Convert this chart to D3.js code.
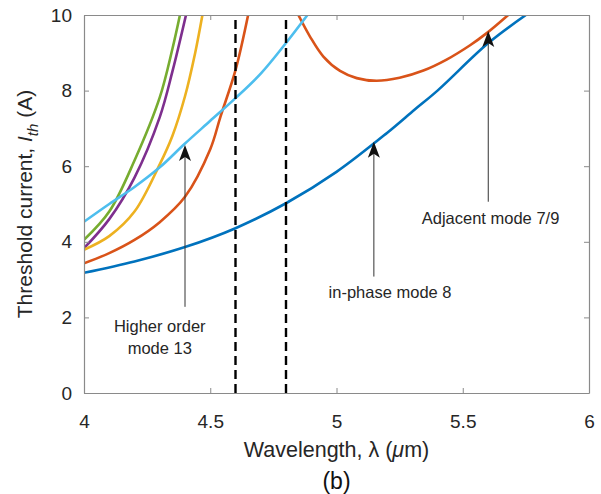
<!DOCTYPE html>
<html>
<head>
<meta charset="utf-8">
<script src="https://cdn.jsdelivr.net/npm/d3@7"></script>
<style>
  body { margin: 0; background: #fff; }
  svg { display: block; font-family: "Liberation Sans", Arial, Helvetica, sans-serif; }
</style>
</head>
<body>
<div id="chart"></div>
<script>
// Wavelength (um) / threshold current (A), one pair of arrays per mode
var inPhaseX = [4.0, 4.2, 4.4, 4.6, 4.8, 5.0, 5.2, 5.31, 5.4, 5.6, 5.75],
	inPhaseY = [3.18, 3.48, 3.86, 4.36, 5.02, 5.85, 6.88, 7.5, 8.0, 9.25, 10];

var adjAX = [4.0, 4.1, 4.2, 4.3, 4.4, 4.5, 4.54, 4.6, 4.65],
	adjAY = [3.43, 3.7, 4.05, 4.52, 5.19, 6.45, 7.3, 8.54, 10];

var adjBX = [4.849, 4.895, 4.948, 5.014, 5.08, 5.159, 5.25, 5.344, 5.436, 5.529, 5.595, 5.68],
	adjBY = [10, 9.43, 8.9, 8.52, 8.33, 8.26, 8.34, 8.53, 8.82, 9.2, 9.52, 10];

var mode13X = [4.0, 4.1, 4.2, 4.3, 4.4, 4.5, 4.6, 4.7, 4.8, 4.885],
	mode13Y = [4.53, 5.0, 5.45, 5.97, 6.6, 7.2, 7.8, 8.45, 9.26, 10];

var yellowX = [4.0, 4.1, 4.2, 4.3, 4.35, 4.4, 4.44, 4.469],
	yellowY = [3.79, 4.15, 4.8, 6.05, 6.8, 7.85, 8.99, 10];

var purpleX = [4.0, 4.1, 4.2, 4.3, 4.35, 4.404],
	purpleY = [3.83, 4.6, 5.7, 7.3, 8.5, 10];

var greenX = [4.0, 4.1, 4.2, 4.3, 4.35, 4.38],
	greenY = [4.05, 4.8, 6.15, 7.82, 9.1, 10];

var xTicks = [4, 4.5, 5, 5.5, 6],
	yTicks = [0, 2, 4, 6, 8, 10];

var cutoffs = [4.6, 4.8]; // dashed lines

// arrows: x, y of tail, y of tip (data units)
var arrowX = [4.4, 5.148, 5.601],
	arrowFrom = [2.28, 3.08, 5.06],
	arrowTo = [6.56, 6.65, 9.58];

var noteText = [['Higher order', 'mode 13'], ['in-phase mode 8'], ['Adjacent mode 7/9']],
	noteX = [4.30, 5.212, 5.61],
	noteY = [1.61, 2.51, 4.48];

var W = 601, H = 494,
	margin = {top: 15, right: 12, bottom: 101, left: 84},
	width = W - margin.left - margin.right,
	height = H - margin.top - margin.bottom;

var axisGray = '#8a8a8a',
	textColor = '#262626';

var x = d3.scaleLinear().domain([4, 6]).range([0, width]);
var y = d3.scaleLinear().domain([0, 10]).range([height, 0]);

var svg = d3.select('#chart').append('svg')
	.attr('width', W)
	.attr('height', H);

var g = svg.append('g')
	.attr('transform', 'translate(' + margin.left + ',' + margin.top + ')');

g.append('clipPath').attr('id', 'plot-clip')
	.append('rect').attr('width', width).attr('height', height);

var series = [
	{xs: greenX, ys: greenY, color: '#77AC30'},
	{xs: purpleX, ys: purpleY, color: '#7E2F8E'},
	{xs: yellowX, ys: yellowY, color: '#EDB120'},
	{xs: adjAX, ys: adjAY, color: '#D95319'},
	{xs: adjBX, ys: adjBY, color: '#D95319'},
	{xs: mode13X, ys: mode13Y, color: '#4DBEEE'},
	{xs: inPhaseX, ys: inPhaseY, color: '#0072BD'}
];

var line = d3.line()
	.x(function (d) { return x(d[0]); })
	.y(function (d) { return y(d[1]); })
	.curve(d3.curveCatmullRom.alpha(0.5));

var plot = g.append('g').attr('clip-path', 'url(#plot-clip)');

plot.selectAll('path.mode')
	.data(series)
	.enter().append('path')
	.attr('class', 'mode')
	.attr('fill', 'none')
	.attr('stroke', function (d) { return d.color; })
	.attr('stroke-width', 2.6)
	.attr('d', function (d) {
		return line(d.xs.map(function (v, i) { return [v, d.ys[i]]; }));
	});

// dashed cut-off lines
plot.selectAll('line.cut')
	.data(cutoffs)
	.enter().append('line')
	.attr('class', 'cut')
	.attr('x1', function (d) { return x(d); })
	.attr('x2', function (d) { return x(d); })
	.attr('y1', y(0))
	.attr('y2', y(10))
	.attr('stroke', '#000')
	.attr('stroke-width', 2.4)
	.attr('stroke-dasharray', '9,5');

// axes (ticks point inward, box on all four sides)
function styleAxis(sel) {
	sel.select('.domain').attr('stroke', axisGray).attr('stroke-width', 1.2);
	sel.selectAll('.tick line').attr('stroke', axisGray);
	sel.selectAll('.tick text')
		.attr('fill', textColor)
		.style('font-size', '19px');
}

g.append('g')
	.attr('transform', 'translate(0,' + height + ')')
	.call(d3.axisBottom(x).tickValues(xTicks).tickSizeInner(-5).tickSizeOuter(0).tickPadding(22)
		.tickFormat(d3.format('')))
	.call(styleAxis);

g.append('g')
	.call(d3.axisTop(x).tickValues(xTicks).tickSizeInner(-5).tickSizeOuter(0).tickFormat(''))
	.call(styleAxis);

g.append('g')
	.call(d3.axisLeft(y).tickValues(yTicks).tickSizeInner(-5).tickSizeOuter(0).tickPadding(12))
	.call(styleAxis);

g.append('g')
	.attr('transform', 'translate(' + width + ',0)')
	.call(d3.axisRight(y).tickValues(yTicks).tickSizeInner(-5).tickSizeOuter(0).tickFormat(''))
	.call(styleAxis);

// annotation arrows
var arrows = g.selectAll('g.arrow')
	.data(arrowX)
	.enter().append('g')
	.attr('class', 'arrow');

arrows.append('line')
	.attr('x1', function (d) { return x(d); })
	.attr('x2', function (d) { return x(d); })
	.attr('y1', function (d, i) { return y(arrowFrom[i]); })
	.attr('y2', function (d, i) { return y(arrowTo[i]) + 10; })
	.attr('stroke', '#333')
	.attr('stroke-width', 1);

arrows.append('path')
	.attr('transform', function (d, i) {
		return 'translate(' + x(d) + ',' + y(arrowTo[i]) + ')';
	})
	.attr('d', 'M0,0L6,16L0,12L-6,16Z')
	.attr('fill', '#111');

// annotation texts
var notes = g.selectAll('text.note')
	.data(noteText)
	.enter().append('text')
	.attr('class', 'note')
	.attr('text-anchor', 'middle')
	.attr('fill', textColor)
	.style('font-size', '16.5px')
	.attr('transform', function (d, i) {
		return 'translate(' + x(noteX[i]) + ',' + y(noteY[i]) + ')';
	});

notes.selectAll('tspan')
	.data(function (d) { return d; })
	.enter().append('tspan')
	.attr('x', 0)
	.attr('y', function (d, i) { return i * 21.5; })
	.text(function (d) { return d; });

// axis labels
var xLabel = g.append('text')
	.attr('x', width / 2)
	.attr('y', height + 64)
	.attr('text-anchor', 'middle')
	.attr('fill', textColor)
	.style('font-size', '21.5px');
xLabel.append('tspan').text('Wavelength, ');
xLabel.append('tspan').text('λ');
xLabel.append('tspan').text(' (');
xLabel.append('tspan').style('font-style', 'italic').text('μ');
xLabel.append('tspan').text('m)');

var yLabel = svg.append('text')
	.attr('transform', 'translate(32,' + (margin.top + height / 2) + ') rotate(-90)')
	.attr('text-anchor', 'middle')
	.attr('fill', textColor)
	.style('font-size', '21px');
yLabel.append('tspan').text('Threshold current, ');
yLabel.append('tspan').style('font-style', 'italic').text('I');
yLabel.append('tspan').style('font-style', 'italic').style('font-size', '15px').attr('dy', 6).text('th');
yLabel.append('tspan').attr('dy', -6).text(' (A)');

svg.append('text')
	.attr('x', margin.left + width / 2)
	.attr('y', 489)
	.attr('text-anchor', 'middle')
	.attr('fill', '#111')
	.style('font-size', '23px')
	.text('(b)');
</script>
</body>
</html>
